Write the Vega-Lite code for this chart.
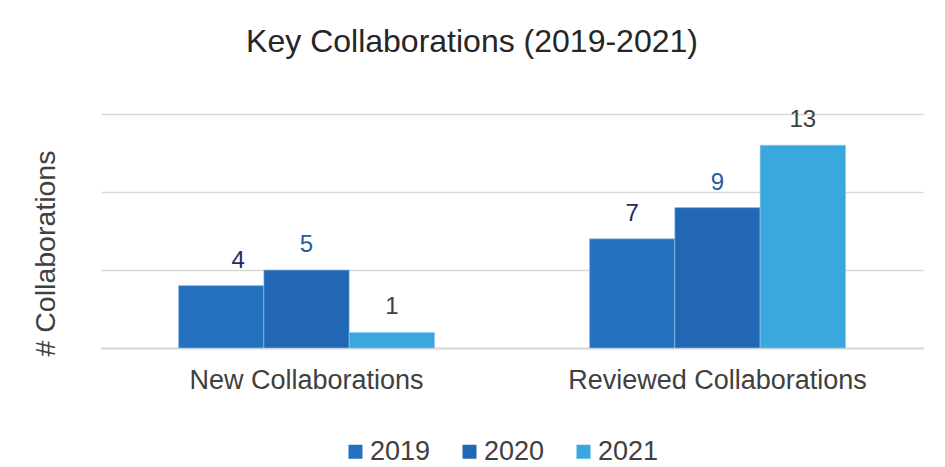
{
  "$schema": "https://vega.github.io/schema/vega-lite/v6.json",
  "autosize": {"type": "none"},
  "width": 822,
  "height": 234,
  "padding": {"left": 101, "top": 114, "right": 22, "bottom": 119},
  "background": "white",
  "config": {
    "font": "Liberation Sans",
    "view": {"stroke": null}
  },
  "title": {
    "text": "Key Collaborations (2019-2021)",
    "fontSize": 32,
    "fontWeight": "normal",
    "color": "#262626",
    "anchor": "middle",
    "baseline": "alphabetic",
    "dx": -40,
    "offset": 24
  },
  "data": {
    "values": [
      {"category": "New Collaborations", "year": "2019", "value": 4},
      {"category": "New Collaborations", "year": "2020", "value": 5},
      {"category": "New Collaborations", "year": "2021", "value": 1},
      {"category": "Reviewed Collaborations", "year": "2019", "value": 7},
      {"category": "Reviewed Collaborations", "year": "2020", "value": 9},
      {"category": "Reviewed Collaborations", "year": "2021", "value": 13}
    ]
  },
  "encoding": {
    "x": {
      "field": "category",
      "type": "nominal",
      "scale": {"paddingInner": 0.377, "paddingOuter": 0.1886},
      "axis": {
        "title": null,
        "labelAngle": 0,
        "labelFontSize": 27,
        "labelLimit": 0,
        "labelColor": "#404040",
        "labelPadding": 19,
        "ticks": false,
        "domainColor": "#d9d9d9",
        "domainWidth": 2
      }
    },
    "xOffset": {"field": "year", "type": "nominal", "sort": ["2019", "2020", "2021"]},
    "y": {
      "field": "value",
      "type": "quantitative",
      "scale": {"domain": [0, 15]},
      "axis": {
        "values": [0, 5, 10, 15],
        "labels": false,
        "ticks": false,
        "domain": false,
        "gridColor": "#d9d9d9",
        "gridWidth": 1.5,
        "title": "# Collaborations",
        "titleFontSize": 28.5,
        "titleFontWeight": "normal",
        "titleColor": "#404040",
        "titleAngle": 270,
        "titleX": -47,
        "titleY": 139,
        "titleAlign": "center",
        "titleBaseline": "alphabetic"
      }
    }
  },
  "layer": [
    {
      "mark": {"type": "bar", "stroke": "#9cc3e8", "strokeWidth": 0.6},
      "encoding": {
        "color": {
          "field": "year",
          "type": "nominal",
          "scale": {"domain": ["2019", "2020", "2021"], "range": ["#2371bf", "#2267b4", "#38a8df"]},
          "legend": {
            "title": null,
            "orient": "none",
            "direction": "horizontal",
            "legendX": 241,
            "legendY": 324,
            "padding": 0,
            "symbolType": "square",
            "symbolSize": 196,
            "symbolStrokeWidth": 0,
            "labelFontSize": 27,
            "labelColor": "#404040",
            "labelOffset": 1,
            "columnPadding": 25
          }
        }
      }
    },
    {
      "transform": [{"filter": "!(datum.category == 'New Collaborations' && datum.year == '2019')"}],
      "mark": {"type": "text", "fontSize": 24, "baseline": "alphabetic", "dy": -18},
      "encoding": {
        "text": {"field": "value", "type": "quantitative"},
        "fill": {
          "field": "year",
          "type": "nominal",
          "scale": {"domain": ["2019", "2020", "2021"], "range": ["#1f2c62", "#2a5a9f", "#404040"]},
          "legend": null
        }
      }
    },
    {
      "transform": [{"filter": "datum.category == 'New Collaborations' && datum.year == '2019'"}],
      "mark": {"type": "text", "fontSize": 24, "baseline": "alphabetic", "dy": -18, "dx": 17},
      "encoding": {
        "text": {"field": "value", "type": "quantitative"},
        "fill": {
          "field": "year",
          "type": "nominal",
          "scale": {"domain": ["2019", "2020", "2021"], "range": ["#1f2c62", "#2a5a9f", "#404040"]},
          "legend": null
        }
      }
    }
  ]
}
